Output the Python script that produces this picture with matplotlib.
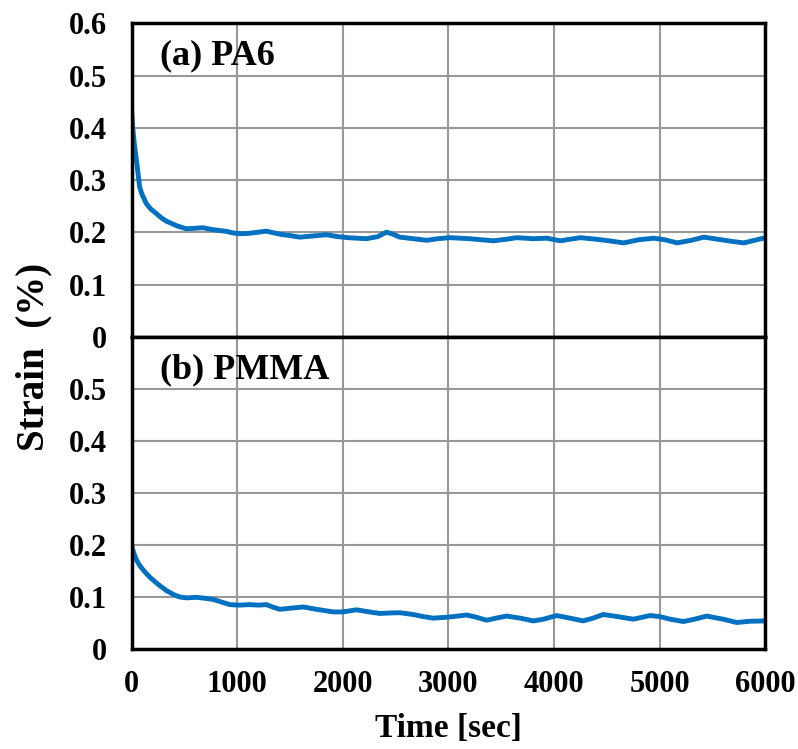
import matplotlib
matplotlib.use('Agg')
import matplotlib.pyplot as plt

plt.rcParams['font.family'] = ['Liberation Serif', 'DejaVu Serif']
plt.rcParams['font.weight'] = 'bold'

# (a) PA6 strain vs time
t_pa6 = [0, 10, 25, 50, 76, 100, 139, 180, 234, 280, 329, 380, 423, 470, 518,
         600, 675, 750, 820, 897, 960, 1023, 1100, 1180, 1276, 1350, 1420, 1500,
         1592, 1700, 1845, 1950, 2050, 2224, 2330, 2413, 2470, 2540, 2666, 2793,
         2900, 3015, 3200, 3425, 3550, 3647, 3800, 3932, 4060, 4150, 4250, 4400,
         4520, 4660, 4800, 4944, 5050, 5165, 5300, 5418, 5550, 5680, 5797, 5900, 6000]
s_pa6 = [0.432, 0.400, 0.370, 0.330, 0.286, 0.272, 0.255, 0.245, 0.236, 0.228,
         0.2215, 0.217, 0.213, 0.210, 0.207, 0.208, 0.209, 0.206, 0.204, 0.202,
         0.199, 0.1975, 0.198, 0.200, 0.2025, 0.199, 0.196, 0.194, 0.191, 0.193,
         0.1956, 0.192, 0.190, 0.188, 0.192, 0.2006, 0.197, 0.191, 0.188, 0.185,
         0.188, 0.190, 0.188, 0.184, 0.187, 0.190, 0.188, 0.189, 0.184, 0.187,
         0.190, 0.187, 0.184, 0.180, 0.186, 0.189, 0.186, 0.180, 0.185, 0.191,
         0.187, 0.183, 0.180, 0.185, 0.190]

# (b) PMMA
t_pmma = [0, 20, 50, 76, 120, 170, 250, 329, 400, 455, 520, 613, 700, 771, 850,
          929, 1020, 1118, 1200, 1276, 1340, 1403, 1500, 1624, 1750, 1908, 2000,
          2129, 2250, 2350, 2450, 2540, 2666, 2760, 2856, 3000, 3172, 3260, 3361,
          3450, 3550, 3680, 3803, 3900, 4024, 4150, 4276, 4370, 4465, 4600, 4750,
          4908, 5000, 5100, 5224, 5330, 5445, 5600, 5730, 5850, 6000]
s_pmma = [0.199, 0.185, 0.170, 0.161, 0.150, 0.139, 0.125, 0.113, 0.105, 0.1006,
          0.099, 0.100, 0.098, 0.096, 0.091, 0.086, 0.085, 0.086, 0.085, 0.086,
          0.081, 0.077, 0.079, 0.0815, 0.077, 0.072, 0.072, 0.076, 0.072, 0.069,
          0.070, 0.0704, 0.067, 0.063, 0.060, 0.062, 0.066, 0.062, 0.056, 0.060,
          0.064, 0.060, 0.0547, 0.058, 0.065, 0.060, 0.0547, 0.060, 0.067, 0.063,
          0.058, 0.065, 0.063, 0.058, 0.0535, 0.058, 0.064, 0.058, 0.0516, 0.054,
          0.0547]

x_ticks = [0, 1000, 2000, 3000, 4000, 5000, 6000]
y_ticks = [0, 0.1, 0.2, 0.3, 0.4, 0.5, 0.6]
y_labels_top = ['0', '0.1', '0.2', '0.3', '0.4', '0.5', '0.6']
y_labels_bot = ['0', '0.1', '0.2', '0.3', '0.4', '0.5', '']

blue = '#0070C0'
grid_col = '#989898'

fig = plt.figure(figsize=(7.98, 7.49), dpi=100)
ax1 = fig.add_axes([0.165, 0.550, 0.794, 0.419])
ax2 = fig.add_axes([0.165, 0.133, 0.794, 0.417])

for ax in (ax1, ax2):
    ax.set_xlim(0, 6000)
    ax.set_ylim(0, 0.6)
    ax.set_xticks(x_ticks)
    ax.set_yticks(y_ticks)
    ax.grid(True, color=grid_col, linewidth=1.5)
    ax.set_axisbelow(True)
    for sp in ax.spines.values():
        sp.set_linewidth(2.5)
        sp.set_color('black')
    ax.tick_params(length=0, labelsize=22, pad=18)

ax1.plot(t_pa6, s_pa6, color=blue, linewidth=3.5)
ax1.set_yticklabels(y_labels_top)
ax1.tick_params(axis='x', labelbottom=False)
ax1.text(265, 0.537, '(a) PA6', fontsize=26, fontweight='bold', va='center')

ax2.plot(t_pmma, s_pmma, color=blue, linewidth=3.5)
ax2.plot([0], [0], color='#ED7D31', marker='s', markersize=2)
ax2.set_yticklabels(y_labels_bot)
ax2.tick_params(axis='x', pad=15)
ax2.set_xticklabels([str(v) for v in x_ticks])
ax2.text(265, 0.537, '(b) PMMA', fontsize=26, fontweight='bold', va='center')
ax2.set_xlabel('Time [sec]', fontsize=24, fontweight='bold', labelpad=10)

fig.text(0.043, 0.523, 'Strain  (%)', rotation=90, fontsize=28, fontweight='bold',
         ha='center', va='center')

plt.savefig('out.png', dpi=100)
